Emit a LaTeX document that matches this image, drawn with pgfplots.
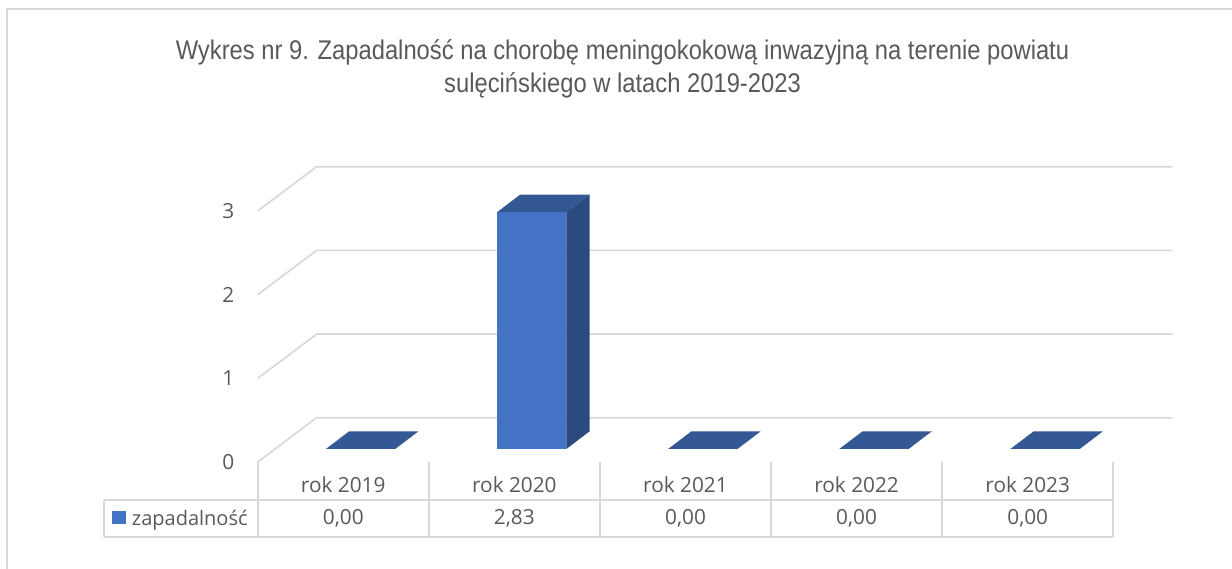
\documentclass[border=0pt]{standalone}
\usepackage{fontspec}
\setmainfont{Open Sans}
\newfontfamily\titlefont[FakeStretch=0.88]{Liberation Sans}
\usepackage{pgfplots}
\pgfplotsset{compat=1.18}
\definecolor{barfront}{HTML}{4472C4}
\definecolor{bartop}{HTML}{335893}
\definecolor{barside}{HTML}{2B4A7E}
\definecolor{gridgray}{HTML}{D9D9D9}
\definecolor{txtgray}{HTML}{595959}
\newlength\px
\setlength\px{0.5pt}

\pgfplotstableread{
x  v
0  0.00
1  2.83
2  0.00
3  0.00
4  0.00
}\incidence

\begin{document}
\begin{tikzpicture}
\useasboundingbox (0,0) rectangle (1232\px,568\px);
% chart frame
\draw[line width=1.5\px, gridgray] (7\px,-20\px) -- (7\px,559\px) -- (1260\px,559\px);
% title
\node[anchor=base, text=txtgray, font=\titlefont\fontsize{13.5}{16}\selectfont] at (622.5\px,508.7\px)
  {Wykres nr 9. Zapadalność na chorobę meningokokową inwazyjną na terenie powiatu};
\node[anchor=base, text=txtgray, font=\titlefont\fontsize{13.5}{16}\selectfont] at (622.5\px,475.8\px)
  {sulęcińskiego w latach 2019-2023};

\begin{axis}[
  at={(257.7\px,106\px)}, anchor=south west,
  scale only axis, width=855.6\px, height=251\px,
  xmin=-0.5, xmax=4.5, ymin=0, ymax=3,
  clip=false,
  axis x line=bottom, axis y line=left,
  axis line style={draw=none},
  major tick length=0pt,
  /pgf/number format/assume math mode=true,
  xtick={0,1,2,3,4},
  xticklabels={rok 2019,rok 2020,rok 2021,rok 2022,rok 2023},
  ytick={0,1,2,3},
  tick label style={font=\fontsize{10.4}{12}\selectfont, text=txtgray},
  xticklabel style={anchor=base, inner sep=0pt, yshift=-31\px},
  yticklabel style={anchor=east, inner sep=0pt, xshift=-23\px},
]
% side wall diagonals and back-wall gridlines
\addplot[gridgray, line width=1.7\px] coordinates {(-0.5,0) (-0.1552,0.5295) (4.847,0.5295)};
\addplot[gridgray, line width=1.7\px] coordinates {(-0.5,1) (-0.1552,1.5295) (4.847,1.5295)};
\addplot[gridgray, line width=1.7\px] coordinates {(-0.5,2) (-0.1552,2.5295) (4.847,2.5295)};
\addplot[gridgray, line width=1.7\px] coordinates {(-0.5,3) (-0.1552,3.5295) (4.847,3.5295)};

% front faces
\addplot[ybar, bar width=0.405, bar shift=0.1011, fill=barfront, draw=none, yshift=13\px]
  table[x=x, y=v] {\incidence};
% top faces
\addplot[fill=bartop, draw=none] coordinates {(-0.1014,0.1554) (0.3036,0.1554) (0.4396,0.3669) (0.0346,0.3669)};
\addplot[fill=bartop, draw=none] coordinates {(0.8986,2.9854) (1.3036,2.9854) (1.4396,3.1969) (1.0346,3.1969)};
\addplot[fill=bartop, draw=none] coordinates {(1.8986,0.1554) (2.3036,0.1554) (2.4396,0.3669) (2.0346,0.3669)};
\addplot[fill=bartop, draw=none] coordinates {(2.8986,0.1554) (3.3036,0.1554) (3.4396,0.3669) (3.0346,0.3669)};
\addplot[fill=bartop, draw=none] coordinates {(3.8986,0.1554) (4.3036,0.1554) (4.4396,0.3669) (4.0346,0.3669)};
% side face of the non-zero bar
\addplot[fill=barside, draw=none] coordinates {(1.3036,0.1554) (1.3036,2.9854) (1.4396,3.1969) (1.4396,0.3669)};

% data table row values
\addplot[draw=none, mark=none, point meta=explicit,
  nodes near coords={\pgfmathprintnumber[fixed,fixed zerofill,precision=2,use comma,assume math mode=true]{\pgfplotspointmeta}},
  nodes near coords style={anchor=base, inner sep=0pt, font=\fontsize{10.4}{12}\selectfont, text=txtgray}]
  coordinates {(0,-0.753) [0.00] (1,-0.753) [2.83] (2,-0.753) [0.00] (3,-0.753) [0.00] (4,-0.753) [0.00]};
\end{axis}

% data table grid
\begin{scope}[gridgray, line width=1.7\px]
\foreach \xx in {257.7,428.8,600,771.1,942.2,1113.3}
  \draw (\xx\px,106\px) -- (\xx\px,31\px);
\draw (104\px,68\px) -- (1113.3\px,68\px);
\draw (104\px,31\px) -- (1113.3\px,31\px);
\draw (104\px,68\px) -- (104\px,31\px);
\end{scope}
\fill[barfront] (112\px,44\px) rectangle (125.7\px,57\px);
\node[anchor=base west, inner sep=0pt, text=txtgray, font=\fontsize{10}{12}\selectfont] at (131.5\px,43\px) {zapadalność};
\end{tikzpicture}
\end{document}
